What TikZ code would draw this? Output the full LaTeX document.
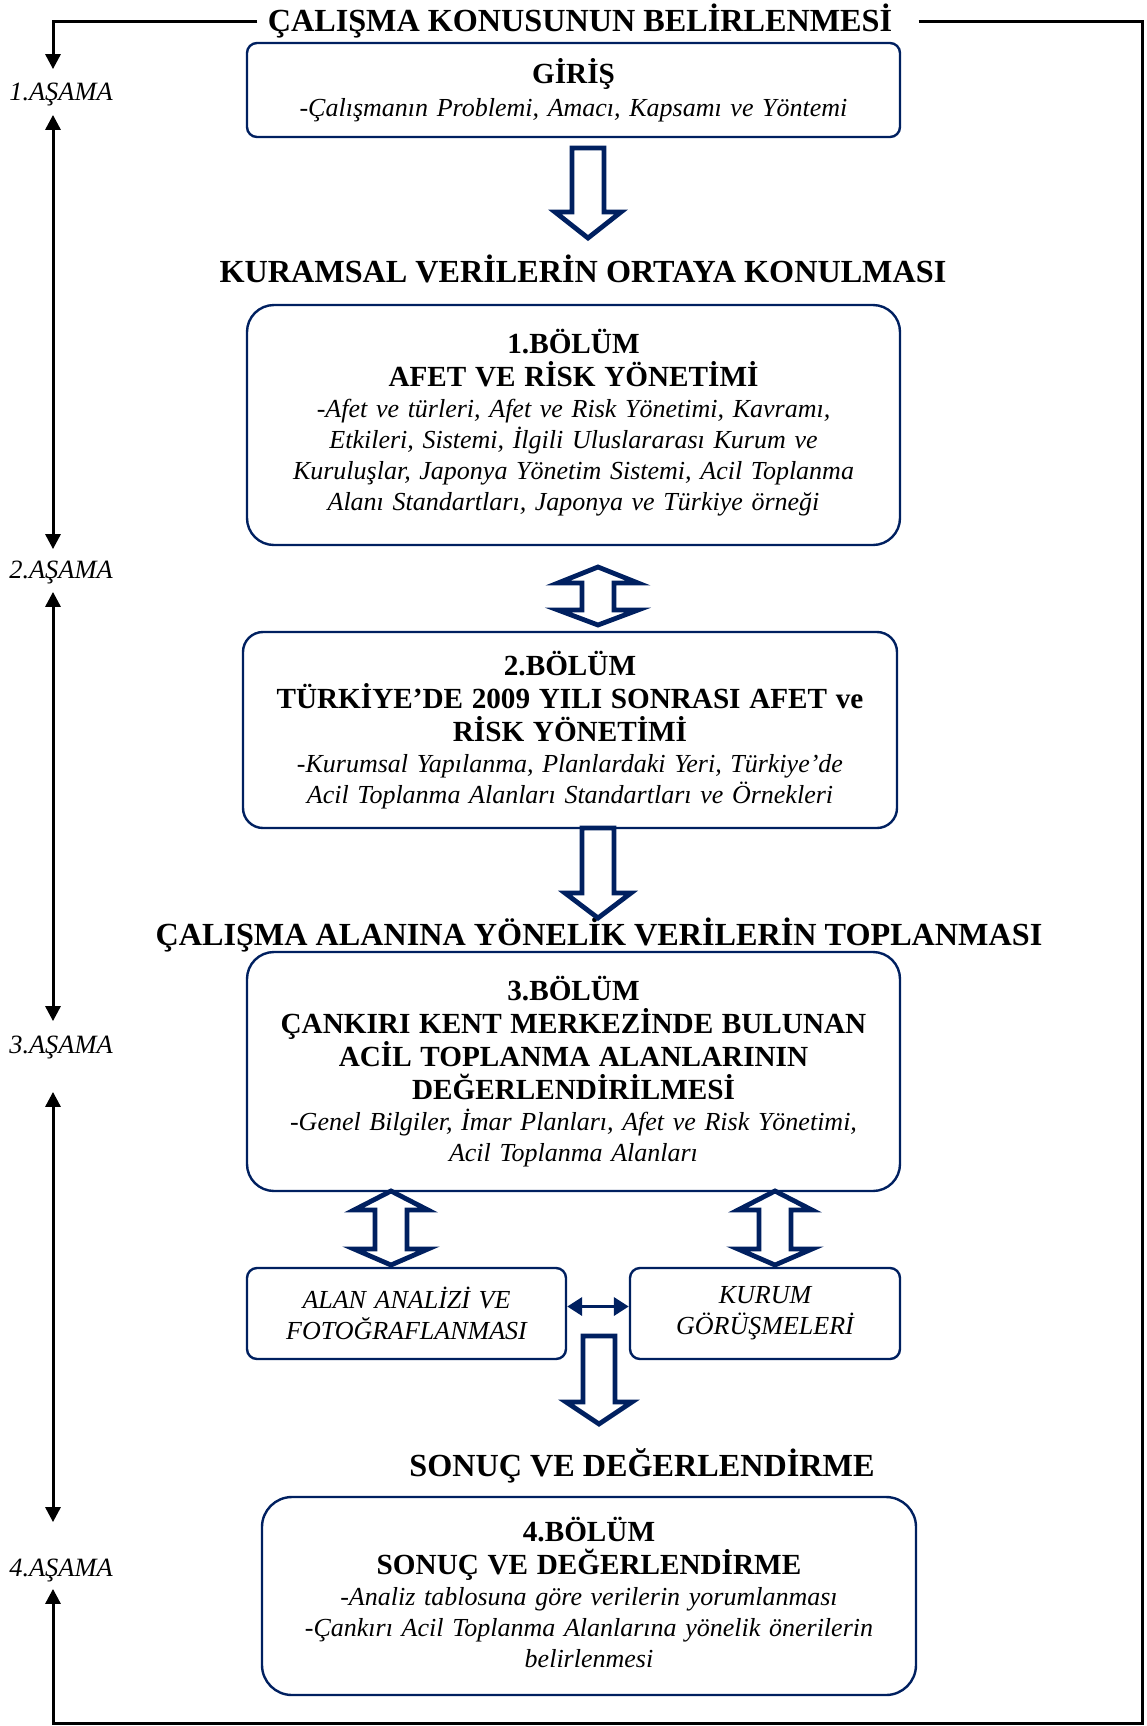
\documentclass[tikz,border=0pt]{standalone}
\usepackage{fontspec}
\setmainfont{Liberation Serif}
\usetikzlibrary{arrows.meta}
\definecolor{navy}{RGB}{0,32,96}
\newcommand{\bb}[1]{{\fontsize{14.6}{15.5}\selectfont\bfseries\upshape #1}}
% hollow block arrow pointing down: x, top, head base, head half width, tip
\newcommand{\asagi}[5]{\draw[hollow] (#1-16,#2) -- (#1+16,#2) -- (#1+16,#3) -- (#1+#4,#3) -- (#1,#5)
    -- (#1-#4,#3) -- (#1-16,#3) -- cycle;}
% hollow double block arrow: x, top tip, upper base, lower base, bottom tip, head half width
\newcommand{\cift}[6]{\draw[hollow] (#1,#2) -- (#1+#6,#3) -- (#1+16,#3) -- (#1+16,#4) -- (#1+#6,#4)
    -- (#1,#5) -- (#1-#6,#4) -- (#1-16,#4) -- (#1-16,#3) -- (#1-#6,#3) -- cycle;}
\tikzset{
    bolum/.style={draw=navy, line width=1.2pt, align=center, inner xsep=0pt, inner ysep=0pt,
        font=\fontsize{13}{15.5}\selectfont\itshape,
        execute at begin node={\lineskiplimit=-20pt\relax\lineskip=0pt\relax}},
    lift/.style={execute at end node={\par\vspace{#1}}},
    baslik/.style={font=\fontsize{16.1}{19}\selectfont\bfseries, inner sep=5pt},
    asama/.style={font=\fontsize{13.2}{15.5}\selectfont\itshape, inner xsep=0pt, inner ysep=7pt},
    frame/.style={line width=1.5pt, -{Triangle[length=7.5pt,width=7.5pt]}},
    stage/.style={line width=1.5pt, {Triangle[length=7.5pt,width=7.5pt]}-{Triangle[length=7.5pt,width=7.5pt]}},
    link/.style={draw=navy, line width=1.8pt, {Triangle[length=7.5pt,width=9pt]}-{Triangle[length=7.5pt,width=9pt]}},
    hollow/.style={draw=navy, fill=white, line width=2.4pt, line join=miter},
}

\begin{document}
\begin{tikzpicture}[x=0.5pt, y=-0.5pt]
    \useasboundingbox (0,0) rectangle (1147,1726);

    % headings
    \node[baslik] (h0) at (580,21) {ÇALIŞMA KONUSUNUN BELİRLENMESİ};
    \node[baslik] (h1) at (583,269) {KURAMSAL VERİLERİN ORTAYA KONULMASI};
    \node[baslik] (h2) at (599,935) {ÇALIŞMA ALANINA YÖNELİK VERİLERİN TOPLANMASI};
    \node[baslik] (h3) at (642,1466) {SONUÇ VE DEĞERLENDİRME};

    % boxes
    \node[bolum, rounded corners=5pt, text width=326.5pt, minimum height=47pt] (giris) at (573.5,90)
        {\bb{GİRİŞ}\\[1pt] -Çalışmanın Problemi, Amacı, Kapsamı ve Yöntemi};
    \node[bolum, lift=2pt, rounded corners=13.5pt, text width=326.5pt, minimum height=120pt] (bolum1) at (573.5,425)
        {\bb{1.BÖLÜM}\\[1pt] \bb{AFET VE RİSK YÖNETİMİ}\\
         -Afet ve türleri, Afet ve Risk Yönetimi, Kavramı,\\ Etkileri, Sistemi, İlgili Uluslararası Kurum ve\\
         Kuruluşlar, Japonya Yönetim Sistemi, Acil Toplanma\\ Alanı Standartları, Japonya ve Türkiye örneği};
    \node[bolum, rounded corners=10pt, text width=327pt, minimum height=98pt] (bolum2) at (570,730)
        {\bb{2.BÖLÜM}\\[1pt] \bb{TÜRKİYE’DE 2009 YILI SONRASI AFET ve}\\[1pt] \bb{RİSK YÖNETİMİ}\\
         -Kurumsal Yapılanma, Planlardaki Yeri, Türkiye’de\\ Acil Toplanma Alanları Standartları ve Örnekleri};
    \node[bolum, rounded corners=13.5pt, text width=326.5pt, minimum height=119.5pt] (bolum3) at (573.5,1071.5)
        {\bb{3.BÖLÜM}\\[1pt] \bb{ÇANKIRI KENT MERKEZİNDE BULUNAN}\\[1pt] \bb{ACİL TOPLANMA ALANLARININ}\\[1pt]
         \bb{DEĞERLENDİRİLMESİ}\\
         -Genel Bilgiler, İmar Planları, Afet ve Risk Yönetimi,\\ Acil Toplanma Alanları};
    \node[bolum, rounded corners=5pt, text width=159.5pt, minimum height=45.5pt] (alan) at (406.5,1313.5)
        {ALAN ANALİZİ VE\\ FOTOĞRAFLANMASI};
    \node[bolum, rounded corners=5pt, text width=135pt, minimum height=45.5pt] (kurum) at (765,1313.5)
        {KURUM\\ GÖRÜŞMELERİ};
    \node[bolum, lift=4pt, rounded corners=15pt, text width=327pt, minimum height=99pt] (bolum4) at (589,1596)
        {\bb{4.BÖLÜM}\\[1pt] \bb{SONUÇ VE DEĞERLENDİRME}\\
         -Analiz tablosuna göre verilerin yorumlanması\\ -Çankırı Acil Toplanma Alanlarına yönelik önerilerin\\
         belirlenmesi};

    % stages on the left
    \node[asama] (s1) at (61,95) {1.AŞAMA};
    \node[asama] (s2) at (61,572) {2.AŞAMA};
    \node[asama] (s3) at (61,1047) {3.AŞAMA};
    \node[asama] (s4) at (61,1570) {4.AŞAMA};

    % frame
    \coordinate (ftl) at (53,21);
    \coordinate (ftr) at (1142,21);
    \coordinate (fbr) at (1142,1723);
    \coordinate (fbl) at (53,1723);
    \draw[frame] (h0.west) -- (ftl) -- (ftl |- s1.north);
    \draw[frame] ([xshift=8pt]h0.east) -- (ftr) -- (fbr) -- (fbl) -- ([yshift=3.5pt]fbl |- s4.south);
    \draw[stage, shorten <=-3pt, shorten >=-1.5pt] (ftl |- s1.south) -- (ftl |- s2.north);
    \draw[stage, shorten <=-3pt] (ftl |- s2.south) -- (ftl |- s3.north);
    \draw[stage, shorten <=9.5pt, shorten >=11pt] (ftl |- s3.south) -- (ftl |- s4.north);

    % block arrows
    \asagi{588}{148}{212}{33}{238}
    \cift{598}{567}{583}{610}{625}{40}
    \asagi{598}{828}{893}{33}{918}
    \cift{391}{1191}{1210}{1249}{1265}{37}
    \cift{775}{1191}{1210}{1249}{1265}{37}
    \asagi{599}{1336}{1402}{33}{1424}
    \draw[link] ([yshift=3.5pt]alan.east) -- ([yshift=3.5pt]kurum.west);

\end{tikzpicture}
\end{document}
